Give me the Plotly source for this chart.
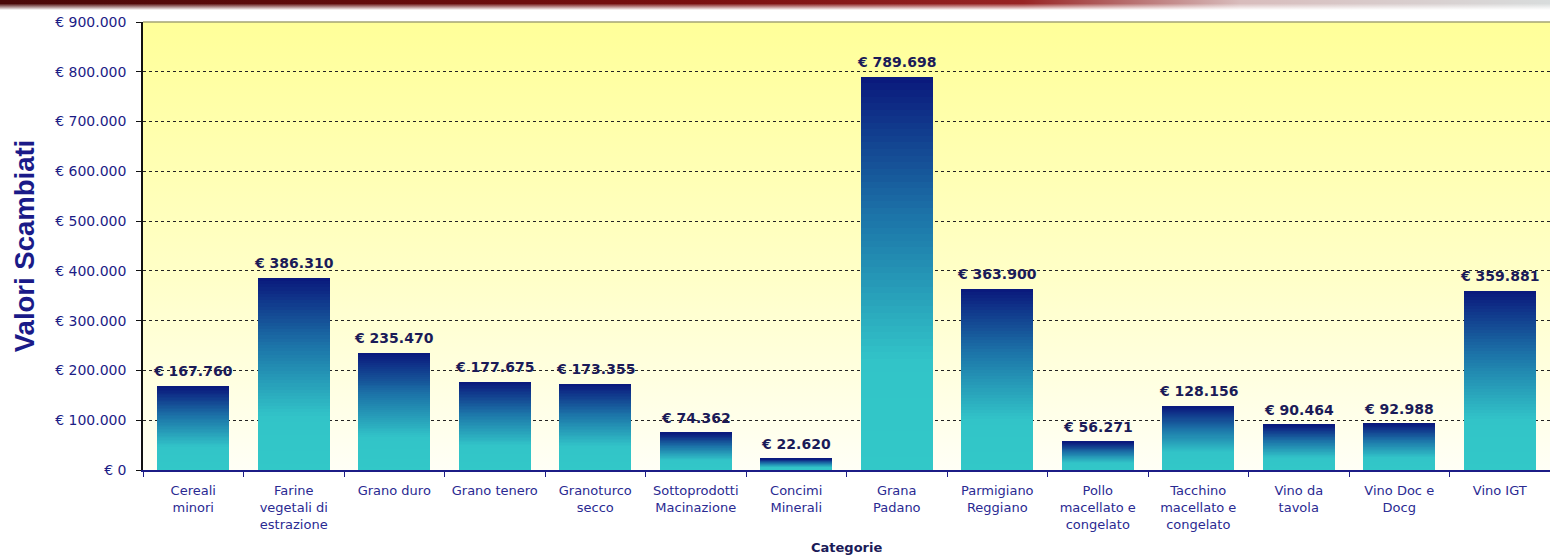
import base64
import plotly.graph_objects as go

# ---------------- data ----------------
categories = ["Cereali minori", "Farine vegetali di estrazione", "Grano duro", "Grano tenero",
              "Granoturco secco", "Sottoprodotti Macinazione", "Concimi Minerali", "Grana Padano",
              "Parmigiano Reggiano", "Pollo macellato e congelato", "Tacchino macellato e congelato",
              "Vino da tavola", "Vino Doc e Docg", "Vino IGT"]
tick_labels = ["Cereali<br>minori", "Farine<br>vegetali di<br>estrazione", "Grano duro", "Grano tenero",
               "Granoturco<br>secco", "Sottoprodotti<br>Macinazione", "Concimi<br>Minerali", "Grana<br>Padano",
               "Parmigiano<br>Reggiano", "Pollo<br>macellato e<br>congelato", "Tacchino<br>macellato e<br>congelato",
               "Vino da<br>tavola", "Vino Doc e<br>Docg", "Vino IGT"]
values = [167760, 386310, 235470, 177675, 173355, 74362, 22620, 789698,
          363900, 56271, 128156, 90464, 92988, 359881]
y_tick_vals = [0, 100000, 200000, 300000, 400000, 500000, 600000, 700000, 800000, 900000]
y_tick_text = ["€ 0", "€ 100.000", "€ 200.000", "€ 300.000", "€ 400.000", "€ 500.000",
               "€ 600.000", "€ 700.000", "€ 800.000", "€ 900.000"]
x_title = "Categorie"
y_title = "Valori Scambiati"

# ---------------- style ----------------
W, H = 1550, 556
ML, MR, MT, MB = 143, 0, 22, 86
PW, PH = W - ML - MR, H - MT - MB
NAVY = "#1c1c86"
N_SEG = 60
stops = [(0.0, (50, 200, 200)), (0.28, (50, 196, 200)), (0.65, (28, 115, 168)), (1.0, (10, 24, 124))]


def grad_color(f):
    for (f0, c0), (f1, c1) in zip(stops[:-1], stops[1:]):
        if f0 <= f <= f1:
            t = (f - f0) / (f1 - f0) if f1 > f0 else 0
            c = [round(a + (b - a) * t) for a, b in zip(c0, c1)]
            return "rgb(%d,%d,%d)" % tuple(c)
    return "rgb(%d,%d,%d)" % stops[-1][1]


def svg_uri(svg):
    return "data:image/svg+xml;base64," + base64.b64encode(svg.encode()).decode()


bg_svg = ('<svg xmlns="http://www.w3.org/2000/svg" width="100" height="100" preserveAspectRatio="none">'
          '<defs><linearGradient id="g" x1="0" y1="0" x2="0" y2="1">'
          '<stop offset="0" stop-color="#ffff99"/><stop offset="0.55" stop-color="#ffffc6"/>'
          '<stop offset="1" stop-color="#fffff6"/></linearGradient></defs>'
          '<rect width="100" height="100" fill="url(#g)"/></svg>')
strip_svg = ('<svg xmlns="http://www.w3.org/2000/svg" width="1550" height="10" preserveAspectRatio="none">'
             '<defs><linearGradient id="h" x1="0" y1="0" x2="1" y2="0">'
             '<stop offset="0" stop-color="#4a0808"/><stop offset="0.45" stop-color="#7a1010"/>'
             '<stop offset="0.66" stop-color="#982424"/><stop offset="0.8" stop-color="#d8bcbc"/>'
             '<stop offset="1" stop-color="#d8dcdc"/></linearGradient>'
             '<linearGradient id="v" x1="0" y1="0" x2="0" y2="1">'
             '<stop offset="0" stop-color="#ffffff" stop-opacity="0"/>'
             '<stop offset="0.35" stop-color="#ffffff" stop-opacity="0"/>'
             '<stop offset="1" stop-color="#ffffff" stop-opacity="1"/></linearGradient></defs>'
             '<rect width="1550" height="10" fill="url(#h)"/>'
             '<rect width="1550" height="10" fill="url(#v)"/></svg>')

fig = go.Figure()
for k in range(N_SEG):
    f = (k + 0.5) / N_SEG
    fig.add_trace(go.Bar(
        x=categories, y=[v / N_SEG for v in values],
        marker=dict(color=grad_color(f), line=dict(width=0)),
        hoverinfo="skip", showlegend=False,
    ))

for c, v in zip(categories, values):
    fig.add_annotation(x=c, y=v, text="€ " + f"{v:,}".replace(",", "."),
                       showarrow=False, yanchor="bottom", yshift=5,
                       font=dict(family="DejaVu Sans", size=14, color="#1b1b58", weight="bold"))

fig.add_annotation(xref="paper", yref="paper", x=0.5, y=-(547 - 470) / PH, yanchor="middle",
                   text="<b>" + x_title + "</b>", showarrow=False,
                   font=dict(family="DejaVu Sans", size=13, color="#1b1b58"))

fig.add_shape(type="line", xref="paper", yref="paper", x0=0, x1=1, y0=1, y1=1,
              line=dict(color="#a4a474", width=1.5), layer="above")

fig.update_layout(
    width=W, height=H,
    margin=dict(l=ML, r=MR, t=MT, b=MB, pad=0),
    barmode="stack", bargap=0.28,
    paper_bgcolor="white", plot_bgcolor="rgba(0,0,0,0)",
    showlegend=False,
    images=[
        dict(source=svg_uri(bg_svg), xref="paper", yref="paper", x=0, y=1, sizex=1, sizey=1,
             sizing="stretch", xanchor="left", yanchor="top", layer="below"),
        dict(source=svg_uri(strip_svg), xref="paper", yref="paper", x=-ML / PW, y=1 + MT / PH,
             sizex=W / PW, sizey=10 / PH, sizing="stretch", xanchor="left", yanchor="top", layer="above"),
    ],
    xaxis=dict(
        type="category", tickmode="array", tickvals=categories, ticktext=tick_labels,
        tickson="boundaries", ticks="outside", ticklen=5, tickcolor=NAVY, tickwidth=1,
        showline=True, linecolor=NAVY, linewidth=1.5, showgrid=False,
        tickfont=dict(family="DejaVu Sans", size=13, color="#2a2a92"),
        ticklabelstandoff=8,
        range=[-0.5, len(categories) - 0.5], fixedrange=True,
    ),
    yaxis=dict(
        range=[0, 900000], tickmode="array", tickvals=y_tick_vals, ticktext=y_tick_text,
        ticks="outside", ticklen=5, tickcolor="#111111", tickwidth=1,
        showline=True, linecolor="#111111", linewidth=1.5,
        showgrid=True, gridcolor="#222222", gridwidth=1, griddash="3px,3px", zeroline=False,
        tickfont=dict(family="DejaVu Sans", size=14, color="#1c1c86"),
        ticklabelstandoff=7,
        title=dict(text="<b>" + y_title + "</b>", standoff=13,
                   font=dict(family="Liberation Sans", size=27.5, color="#1a1a88")),
        fixedrange=True,
    ),
)

fig.write_html("out.html", post_script="document.body.style.margin='0';",
               config={"displayModeBar": False})
